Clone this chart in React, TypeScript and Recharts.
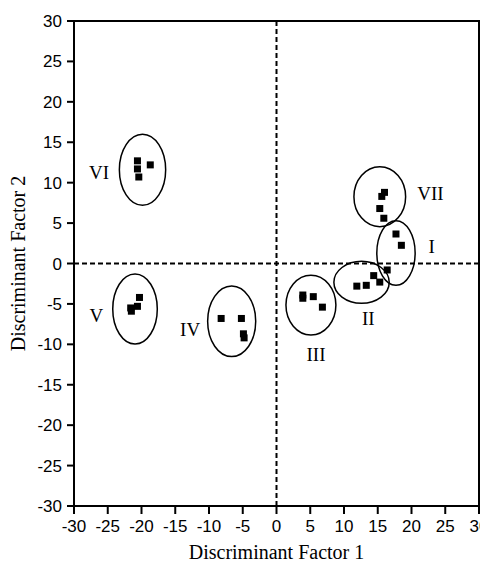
import { ScatterChart, Scatter, XAxis, YAxis, ReferenceLine, ReferenceArea } from 'recharts'

// discriminant scores per group
const groupI = [{ x: 17.7, y: 3.65 }, { x: 18.5, y: 2.25 }]
const groupII = [{ x: 16.4, y: -0.8 }, { x: 14.4, y: -1.5 }, { x: 15.3, y: -2.3 }, { x: 13.3, y: -2.7 }, { x: 11.9, y: -2.8 }]
const groupIII = [{ x: 3.9, y: -3.9 }, { x: 3.9, y: -4.3 }, { x: 5.45, y: -4.1 }, { x: 6.8, y: -5.4 }]
const groupIV = [{ x: -8.2, y: -6.8 }, { x: -5.2, y: -6.8 }, { x: -4.9, y: -8.7 }, { x: -4.8, y: -9.2 }]
const groupV = [{ x: -20.3, y: -4.2 }, { x: -20.6, y: -5.3 }, { x: -21.6, y: -5.5 }, { x: -21.5, y: -5.9 }]
const groupVI = [{ x: -20.6, y: 12.7 }, { x: -20.6, y: 11.7 }, { x: -20.4, y: 10.7 }, { x: -18.7, y: 12.2 }]
const groupVII = [{ x: 16.0, y: 8.8 }, { x: 15.6, y: 8.3 }, { x: 15.3, y: 6.8 }, { x: 15.9, y: 5.6 }]

const groups = [groupI, groupII, groupIII, groupIV, groupV, groupVI, groupVII]

// ellipse bounding boxes (data units): [x1, x2, y1, y2]
const ellipses = [
  [14.86, 20.54, -2.7, 5.3],
  [8.5, 16.7, -4.93, 0.27],
  [1.4, 8.8, -8.84, -1.44],
  [-10.2, -3.08, -11.52, -2.78],
  [-24.26, -17.66, -9.96, -1.3],
  [-23.28, -16.42, 7.2, 16.0],
  [11.47, 19.13, 4.56, 11.98],
]

const groupLabels = [
  { name: 'I', x: 23.0, y: 2.1 },
  { name: 'II', x: 13.6, y: -6.8 },
  { name: 'III', x: 5.85, y: -11.2 },
  { name: 'IV', x: -12.8, y: -8.2 },
  { name: 'V', x: -26.7, y: -6.4 },
  { name: 'VI', x: -26.3, y: 11.3 },
  { name: 'VII', x: 22.8, y: 8.7 },
]

const axisTicks = [-30, -25, -20, -15, -10, -5, 0, 5, 10, 15, 20, 25, 30]

const tickStyle = { fill: '#000', fontSize: 17, fontFamily: '"Liberation Sans", Arial, sans-serif' }
const titleFont = '"Liberation Serif", "Times New Roman", serif'

const Square = (p: any) => <rect x={p.cx - 3.5} y={p.cy - 3.5} width={7} height={7} fill="#000" />

const GroupText = (p: any) => (
  <text x={p.cx} y={p.cy} textAnchor="middle" dominantBaseline="central" fontSize={19} fontFamily={titleFont} fill="#000">
    {p.payload.name}
  </text>
)

const EllipseShape = (p: any) => {
  const w = Math.abs(p.width)
  const h = Math.abs(p.height)
  return <ellipse cx={p.x + p.width / 2} cy={p.y + p.height / 2} rx={w / 2} ry={h / 2} fill="none" stroke="#000" strokeWidth={1.5} />
}

export default function App() {
  return (
    <div style={{ width: 480, height: 554 }}>
      <ScatterChart width={480} height={554} margin={{ top: 13, right: 9, bottom: 0, left: 0 }}>
        <XAxis
          type="number"
          dataKey="x"
          domain={[-30, 30]}
          ticks={axisTicks}
          allowDataOverflow
          height={56}
          tickSize={8}
          tickMargin={6}
          tick={tickStyle}
          axisLine={{ stroke: '#000', strokeWidth: 2 }}
          tickLine={{ stroke: '#000', strokeWidth: 2 }}
          label={{ value: 'Discriminant Factor 1', position: 'insideBottom', offset: 3, style: { fontSize: 20, fontFamily: titleFont, fill: '#000' } }}
        />
        <YAxis
          type="number"
          dataKey="y"
          domain={[-30, 30]}
          ticks={axisTicks}
          allowDataOverflow
          width={66}
          tickSize={7}
          tickMargin={5}
          tick={tickStyle}
          axisLine={{ stroke: '#000', strokeWidth: 2 }}
          tickLine={{ stroke: '#000', strokeWidth: 2 }}
          label={{ value: 'Discriminant Factor 2', angle: -90, position: 'insideLeft', offset: 10, style: { textAnchor: 'middle', fontSize: 20, fontFamily: titleFont, fill: '#000' } }}
        />
        <ReferenceArea x1={-30} x2={30} y1={-30} y2={30} fill="none" stroke="#000" strokeWidth={2} fillOpacity={0} />
        <ReferenceLine x={0} stroke="#000" strokeWidth={2} strokeDasharray="5 3" />
        <ReferenceLine y={0} stroke="#000" strokeWidth={2} strokeDasharray="5 3" />
        {ellipses.map((e, i) => (
          <ReferenceArea key={i} x1={e[0]} x2={e[1]} y1={e[2]} y2={e[3]} shape={EllipseShape} />
        ))}
        {groups.map((g, i) => (
          <Scatter key={i} data={g} shape={Square} isAnimationActive={false} />
        ))}
        <Scatter data={groupLabels} shape={GroupText} isAnimationActive={false} />
      </ScatterChart>
    </div>
  )
}
